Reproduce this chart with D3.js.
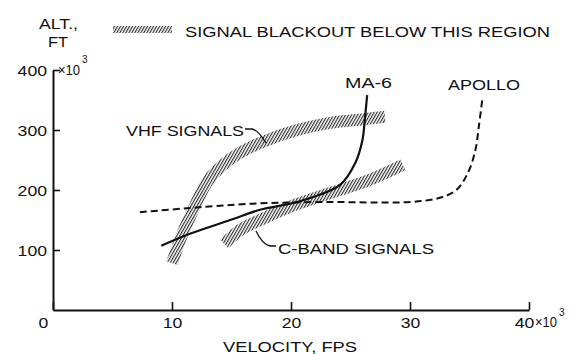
<!DOCTYPE html>
<html><head><meta charset="utf-8">
<script src="https://cdn.jsdelivr.net/npm/d3@7"></script>
<style>
html,body{margin:0;padding:0;background:#fff;}
svg{display:block;font-family:"Liberation Sans",Arial,sans-serif;}
</style></head>
<body>
<svg id="c" width="585" height="354"></svg>
<script>
// ---- data (velocity in thousands of fps, altitude in thousands of ft) ----
const xTicks = [0, 10, 20, 30, 40];
const yTicks = [100, 200, 300, 400];
const ma6Velocity = [9.1, 11.5, 14.9, 17.4, 19.9, 21.8, 24.1, 25.4, 26.0, 26.2, 26.4];
const ma6Altitude = [107, 127, 150, 167, 177, 188, 208, 245, 283, 317, 358];
const apolloVelocity = [7.3, 11.5, 16.6, 22.4, 30.0, 32.5, 33.9, 34.9, 35.5, 35.8, 36.1];
const apolloAltitude = [163, 170, 177, 180, 180, 187, 200, 230, 267, 308, 355];
const vhfVelocity = [10.0, 10.9, 11.9, 12.9, 14.3, 15.7, 17.6, 20.5, 23.3, 26.1, 27.9];
const vhfAltitude = [78, 128, 172, 212, 242, 262, 280, 300, 312, 318, 322];
const cbandVelocity = [14.4, 15.7, 17.4, 19.9, 23.3, 26.6, 29.4];
const cbandAltitude = [110, 133, 150, 172, 195, 217, 242];

const svg = d3.select("#c");
const x = d3.scaleLinear().domain([0, 40]).range([53, 529]);
const y = d3.scaleLinear().domain([0, 400]).range([310, 70]);

// hatch pattern
const defs = svg.append("defs");
const pat = defs.append("pattern").attr("id", "hatch")
  .attr("patternUnits", "userSpaceOnUse").attr("width", 2.6).attr("height", 6)
  .attr("patternTransform", "rotate(30)");
pat.append("rect").attr("width", 2.6).attr("height", 6).attr("fill", "#fff");
pat.append("line").attr("x1", 0.6).attr("x2", 0.6).attr("y1", 0).attr("y2", 6)
  .attr("stroke", "#111").attr("stroke-width", 1.0);

const zip = (a, b) => a.map((v, i) => [v, b[i]]);
const line = d3.line().x(d => x(d[0])).y(d => y(d[1])).curve(d3.curveCatmullRom.alpha(0.5));

// bands
svg.append("path").attr("d", line(zip(vhfVelocity, vhfAltitude)))
  .attr("fill", "none").attr("stroke", "url(#hatch)").attr("stroke-width", 12);
svg.append("path").attr("d", line(zip(cbandVelocity, cbandAltitude)))
  .attr("fill", "none").attr("stroke", "url(#hatch)").attr("stroke-width", 12);

// trajectories
svg.append("path").attr("d", line(zip(apolloVelocity, apolloAltitude)))
  .attr("fill", "none").attr("stroke", "#111").attr("stroke-width", 2)
  .attr("stroke-dasharray", "7,4");
svg.append("path").attr("d", line(zip(ma6Velocity, ma6Altitude)))
  .attr("fill", "none").attr("stroke", "#111").attr("stroke-width", 2.2);

// axes
const xAxis = d3.axisBottom(x).tickValues(xTicks).tickSizeInner(-8).tickSizeOuter(0).tickPadding(7)
  .tickFormat(d3.format("d"));
const gx = svg.append("g").attr("transform", "translate(0,310)").call(xAxis);
const yAxis = d3.axisLeft(y).tickValues(yTicks).tickSizeInner(-7).tickSizeOuter(0).tickPadding(6)
  .tickFormat(d3.format("d"));
const gy = svg.append("g").attr("transform", "translate(53,0)").call(yAxis);
[gx, gy].forEach(g => {
  g.select(".domain").attr("stroke", "#111").attr("stroke-width", 2);
  g.selectAll(".tick line").attr("stroke", "#111").attr("stroke-width", 1.6);
  g.selectAll(".tick text").attr("fill", "#111").attr("font-size", 15)
    .attr("font-family", "Liberation Sans, Arial, sans-serif")
    .attr("textLength", d => String(d).length * 9.8).attr("lengthAdjust", "spacingAndGlyphs");
});
gx.selectAll(".tick text").attr("dx", d => d === 0 ? -10 : d === 40 ? -5 : 0);
gy.selectAll(".tick text").attr("dy", "0.36em");

const txt = (s, xx, yy, opts = {}) => {
  const t = svg.append("text").attr("x", xx).attr("y", yy).text(s)
    .attr("font-size", opts.size || 15.5).attr("fill", "#111");
  if (opts.len) t.attr("textLength", opts.len).attr("lengthAdjust", "spacingAndGlyphs");
  if (opts.anchor) t.attr("text-anchor", opts.anchor);
  return t;
};
// multipliers
txt("×10", 58, 75, {size: 15, len: 22});
svg.append("text").attr("x", 82).attr("y", 63).attr("font-size", 10).attr("fill", "#111").text("3");
txt("×10", 535, 327, {size: 15, len: 22});
svg.append("text").attr("x", 559).attr("y", 316).attr("font-size", 10).attr("fill", "#111").text("3");

// axis titles
txt("ALT.,", 39, 29, {len: 39});
txt("FT", 48, 47, {len: 20});
txt("VELOCITY, FPS", 223, 352, {len: 134});

// legend
svg.append("rect").attr("x", 113).attr("y", 26).attr("width", 59).attr("height", 7).attr("fill", "url(#hatch)");
txt("SIGNAL BLACKOUT BELOW THIS REGION", 185, 37, {len: 365});

// series labels
txt("MA-6", 345, 88, {len: 47});
txt("APOLLO", 448, 90, {len: 72});
txt("VHF SIGNALS", 126, 136, {len: 118});
txt("C-BAND SIGNALS", 278, 254, {len: 156});

// leaders
svg.append("path").attr("d", "M245,129 L252,129 Q258,130 266,143")
  .attr("fill", "none").attr("stroke", "#111").attr("stroke-width", 1.3);
svg.append("path").attr("d", "M256,231 Q262,244 270,246 L276,246")
  .attr("fill", "none").attr("stroke", "#111").attr("stroke-width", 1.3);
</script>
</body></html>
